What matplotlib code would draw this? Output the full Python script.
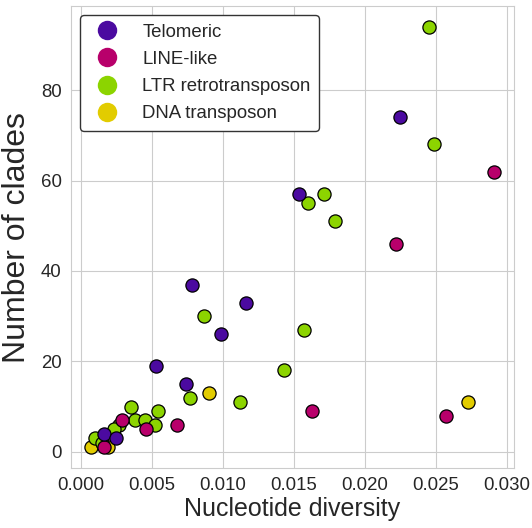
import matplotlib
matplotlib.use("Agg")
import matplotlib.pyplot as plt
from matplotlib.lines import Line2D
import seaborn as sns

# nucleotide diversity vs number of clades, per repeat class
telomeric_x = [0.0225, 0.0154, 0.0078, 0.0116, 0.0099, 0.0053, 0.0074, 0.0016, 0.0025]
telomeric_y = [74, 57, 37, 33, 26, 19, 15, 4, 3]

line_x = [0.0291, 0.0222, 0.0163, 0.0257, 0.0068, 0.0046, 0.0029, 0.0016]
line_y = [62, 46, 9, 8, 6, 5, 7, 1]

ltr_x = [0.0245, 0.0249, 0.0171, 0.0160, 0.0179, 0.0157, 0.0143, 0.0087, 0.0077,
         0.0112, 0.0035, 0.0054, 0.0038, 0.0045, 0.0052, 0.0027, 0.0023, 0.0010, 0.0015]
ltr_y = [94, 68, 57, 55, 51, 27, 18, 30, 12, 11, 10, 9, 7, 7, 6, 6, 5, 3, 2]

dna_x = [0.0273, 0.0090, 0.0007, 0.0019]
dna_y = [11, 13, 1, 1]

labels = ["Telomeric", "LINE-like", "LTR retrotransposon", "DNA transposon"]
colors = ["#4b0aa0", "#b8006b", "#8cd400", "#e2cc00"]

sns.set_style("whitegrid")
plt.rcParams["font.family"] = ["Liberation Sans", "DejaVu Sans"]

fig = plt.figure(figsize=(5.32, 5.28), dpi=100)
ax = fig.add_axes([0.133, 0.113, 0.833, 0.876])

series = [(dna_x, dna_y, 3), (ltr_x, ltr_y, 2), (line_x, line_y, 1), (telomeric_x, telomeric_y, 0)]
for xs, ys, i in series:
    ax.scatter(xs, ys, s=90, color=colors[i], edgecolor="black", linewidth=0.9, zorder=3)

ax.set_xticks([0.000, 0.005, 0.010, 0.015, 0.020, 0.025, 0.030])
ax.set_xticklabels(["0.000", "0.005", "0.010", "0.015", "0.020", "0.025", "0.030"])
ax.set_yticks([0, 20, 40, 60, 80])
ax.tick_params(labelsize=13.4, colors="0.15", pad=3)
ax.set_xlabel("Nucleotide diversity", fontsize=18, color="0.15", labelpad=2)
ax.set_ylabel("Number of clades", fontsize=23, color="0.15", labelpad=6)

for sp in ax.spines.values():
    sp.set_color("#cccccc")

handles = [Line2D([], [], marker="o", linestyle="", markersize=14,
                  markerfacecolor=c, markeredgewidth=0) for c in colors]
leg = ax.legend(handles, labels, loc="upper left", fontsize=13.4, frameon=True,
                borderaxespad=0.5, handletextpad=0.9, labelspacing=0.55,
                borderpad=0.45, fancybox=True, framealpha=1)
leg.get_frame().set_edgecolor("0.2")
for t in leg.get_texts():
    t.set_color("0.15")

fig.savefig("out.png", dpi=100)
